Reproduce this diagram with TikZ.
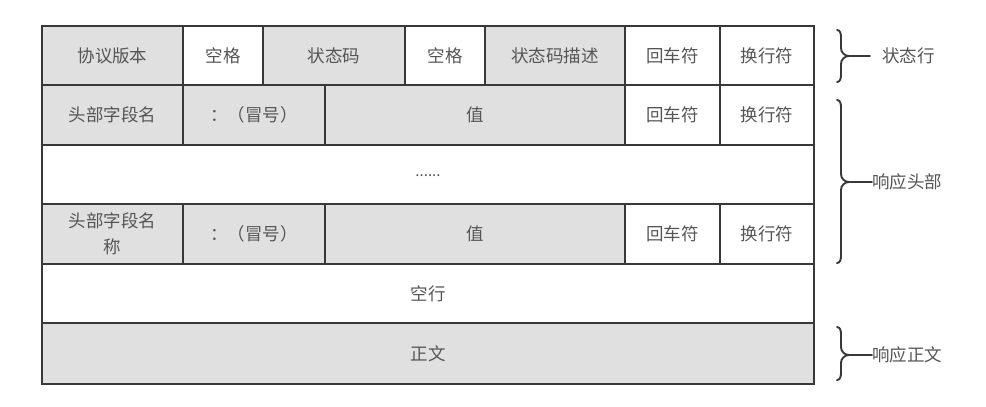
\documentclass[tikz,border=0pt]{standalone}
\usepackage{fontspec}
\setmainfont{Noto Sans CJK SC}
\definecolor{cellgray}{HTML}{E0E0E0}
\definecolor{linec}{HTML}{383838}
\definecolor{txt}{HTML}{555555}
\newcommand\cellbox[7]{\node[cell, fill=#6, minimum width={#4-#2}, minimum height={#5-#3}] (#1) at ({(#2+#4)/2},{(#3+#5)/2}) {#7};}
\newcommand\rbrc[5]{%
  \draw[brc] (837,#1) to[out=0,in=90] (841,{#1+7}) -- (841,{#3-8}) to[out=-90,in=180] (849,#3) -- (#4,#3) coordinate (#5);
  \draw[brc] (849,#3) to[out=180,in=90] (841,{#3+8}) -- (841,{#2-7}) to[out=-90,in=0] (837,#2);}
\begin{document}
\begin{tikzpicture}[x=1pt,y=-1pt,
  cell/.style={draw=linec, line width=2.6pt, text=txt, inner sep=0pt, outer sep=0pt, align=center,
    font=\fontsize{17.5}{21}\selectfont},
  brc/.style={draw=linec, line width=1.9pt, line cap=round},
  lbl/.style={text=txt, inner sep=0pt, anchor=west, font=\fontsize{17.5}{21}\selectfont}]
\useasboundingbox (0,0) rectangle (986,407);
% row 1
\cellbox{a1}{42}{26}{183}{85}{cellgray}{协议版本}
\cellbox{a2}{183}{26}{263}{85}{white}{空格}
\cellbox{a3}{263}{26}{405}{85}{cellgray}{状态码}
\cellbox{a4}{405}{26}{485}{85}{white}{空格}
\cellbox{a5}{485}{26}{625}{85}{cellgray}{状态码描述}
\cellbox{a6}{625}{26}{720}{85}{white}{回车符}
\cellbox{a7}{720}{26}{814}{85}{white}{换行符}
% row 2
\cellbox{b1}{42}{85}{183}{145}{cellgray}{头部字段名}
\cellbox{b2}{183}{85}{325}{145}{cellgray}{：（冒号）}
\cellbox{b3}{325}{85}{625}{145}{cellgray}{值}
\cellbox{b4}{625}{85}{720}{145}{white}{回车符}
\cellbox{b5}{720}{85}{814}{145}{white}{换行符}
% row 3
\cellbox{c1}{42}{145}{814}{204}{white}{\raisebox{-5pt}{\fontsize{15}{17}\selectfont......}}
% row 4
\cellbox{d1}{42}{204}{183}{264}{cellgray}{头部字段名\\[5pt]称}
\cellbox{d2}{183}{204}{325}{264}{cellgray}{：（冒号）}
\cellbox{d3}{325}{204}{625}{264}{cellgray}{值}
\cellbox{d4}{625}{204}{720}{264}{white}{回车符}
\cellbox{d5}{720}{204}{814}{264}{white}{换行符}
% row 5, 6
\cellbox{e1}{42}{264}{814}{323}{white}{空行}
\cellbox{f1}{42}{323}{814}{384}{cellgray}{正文}
% braces
\rbrc{30}{82}{56}{870}{t1}
\node[lbl] (l1) at (882,56) {状态行};
\rbrc{100}{263}{182}{872}{t2}
\node[lbl] (l2) at (t2) {响应头部};
\rbrc{327}{380}{355}{872}{t3}
\node[lbl] (l3) at (t3) {响应正文};
\end{tikzpicture}
\end{document}
